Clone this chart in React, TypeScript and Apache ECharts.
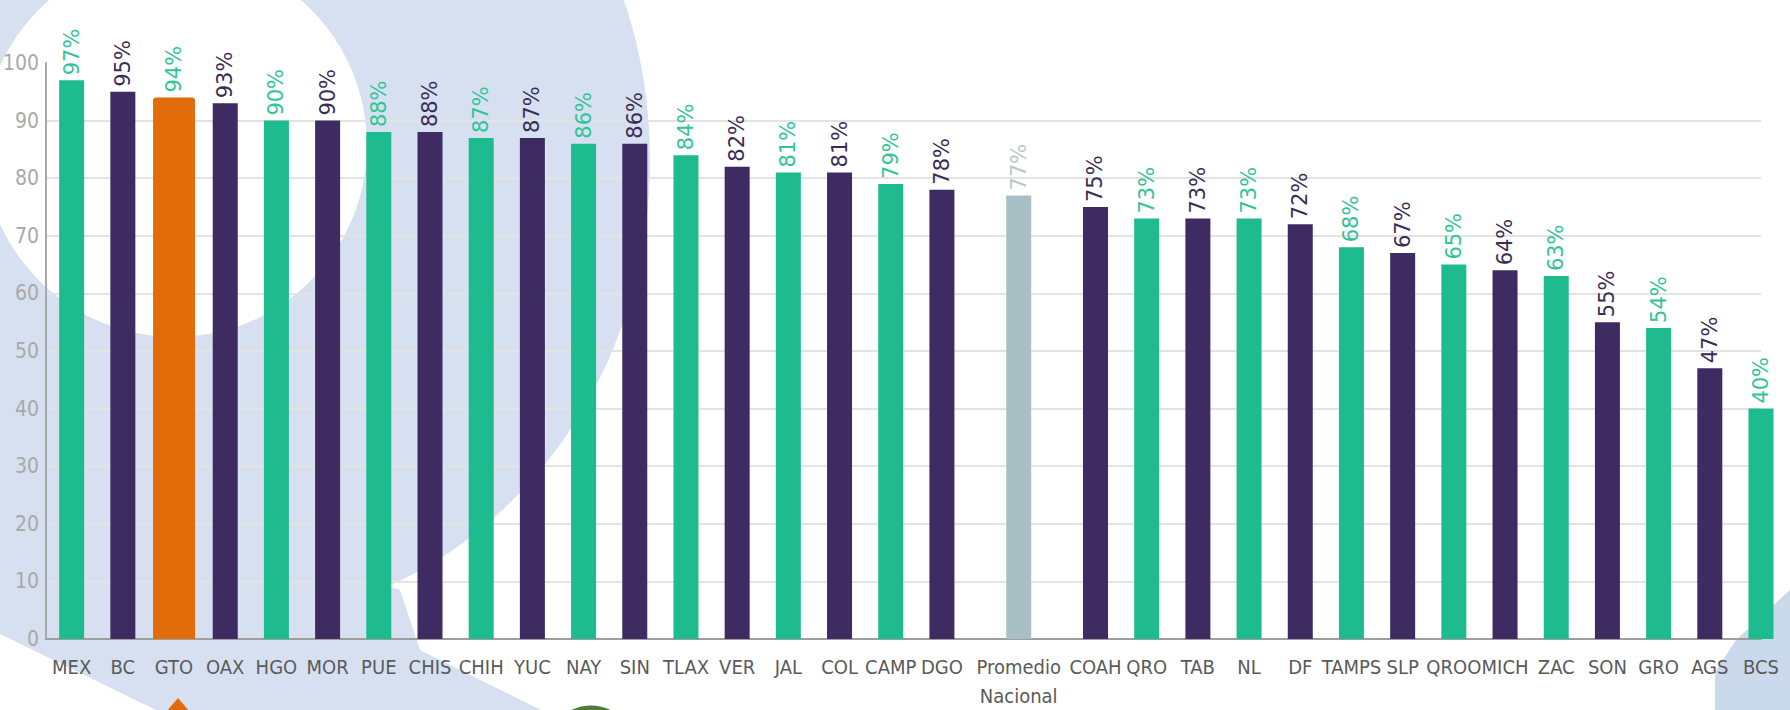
import React, { useEffect, useRef } from "react";
import * as echarts from "echarts";

// ---- data ----
const states: string[] = [
  "MEX", "BC", "GTO", "OAX", "HGO", "MOR", "PUE", "CHIS", "CHIH", "YUC", "NAY",
  "SIN", "TLAX", "VER", "JAL", "COL", "CAMP", "DGO", "Promedio\nNacional", "COAH",
  "QRO", "TAB", "NL", "DF", "TAMPS", "SLP", "QROO", "MICH", "ZAC", "SON", "GRO",
  "AGS", "BCS",
];
const values: number[] = [
  97, 95, 94, 93, 90, 90, 88, 88, 87, 87, 86, 86, 84, 82, 81, 81, 79, 78, 77, 75,
  73, 73, 73, 72, 68, 67, 65, 64, 63, 55, 54, 47, 40,
];
// g = green, p = purple, o = highlighted (GTO), n = national average
const kinds: string[] = [
  "g", "p", "o", "p", "g", "p", "g", "p", "g", "p", "g", "p", "g", "p", "g", "p",
  "g", "p", "n", "p", "g", "p", "g", "p", "g", "p", "g", "p", "g", "p", "g", "p", "g",
];
const yTicks: number[] = [0, 10, 20, 30, 40, 50, 60, 70, 80, 90, 100];
const AVG = "Promedio\nNacional";
const HIGHLIGHT = "GTO";

const BAR_COLORS: Record<string, string> = {
  g: "#1dbb8d",
  p: "#3e2b62",
  o: "#e36c0a",
  n: "#a9bfc6",
};
const LABEL_COLORS: Record<string, string> = {
  g: "#2fc597",
  p: "#3a2d55",
  o: "#2fc597",
  n: "#b9c7cb",
};

export default function App() {
  const ref = useRef<HTMLDivElement>(null);

  useEffect(() => {
    if (!ref.current) return;
    const chart = echarts.init(ref.current, undefined, { renderer: "svg" });

    // half-slot category layout: each state occupies every other category,
    // with one extra half-slot on both sides of the national average
    const idx: number[] = [];
    let pos = 1;
    states.forEach((s) => {
      if (s === AVG) pos += 1;
      idx.push(pos);
      pos += 2;
      if (s === AVG) pos += 1;
    });
    const n = idx[idx.length - 1] + 1;
    const cats: string[] = new Array(n).fill("");
    const mainData: any[] = new Array(n).fill("-");
    const hiData: any[] = new Array(n).fill("-");
    states.forEach((s, i) => {
      cats[idx[i]] = s;
      const k = kinds[i];
      const item = {
        value: values[i],
        itemStyle: { color: BAR_COLORS[k] },
        label: { color: LABEL_COLORS[k] },
      };
      if (s === HIGHLIGHT) hiData[idx[i]] = item;
      else mainData[idx[i]] = item;
    });

    const labelCommon = {
      show: true,
      position: "top",
      rotate: 90,
      align: "left",
      verticalAlign: "middle",
      distance: 5,
      fontFamily: "'DejaVu Sans', sans-serif",
      fontSize: 21,
      formatter: (p: any) => p.value + "%",
    };

    const bg = "#d6e0f1";
    chart.setOption({
      animation: false,
      backgroundColor: "#ffffff",
      graphic: [
        { type: "ellipse", z: -10, silent: true, shape: { cx: 230, cy: 160, rx: 420, ry: 460 }, style: { fill: bg } },
        {
          type: "polygon", z: -10, silent: true,
          shape: { points: [[0, 520], [0, 634], [160, 712], [545, 712], [420, 650], [400, 590], [300, 560]] },
          style: { fill: bg },
        },
        { type: "circle", z: -9, silent: true, shape: { cx: 175, cy: 145, r: 192 }, style: { fill: "#ffffff" } },
        {
          type: "polygon", z: -10, silent: true,
          shape: { points: [[1715, 712], [1715, 672], [1736, 640], [1792, 588], [1792, 712]] },
          style: { fill: "#cbd9ec" },
        },
        {
          type: "polygon", z: 10, silent: true,
          shape: { points: [[178, 698], [166, 712], [190, 712]] },
          style: { fill: "#e36c0a" },
        },
        {
          type: "circle", z: 10, silent: true,
          shape: { cx: 591, cy: 750, r: 42 },
          style: { fill: "none", stroke: "#4f7d3a", lineWidth: 5 },
        },
      ],
      grid: { left: 46, right: 29, top: 63, bottom: 66, containLabel: false },
      xAxis: [
        {
          type: "category",
          data: cats,
          boundaryGap: false,
          axisLine: { show: true, lineStyle: { color: "#9e9e9e", width: 2 } },
          axisTick: { show: false },
          splitLine: { show: false },
          axisLabel: {
            interval: 0,
            color: "#5a5a5a",
            fontSize: 20,
            lineHeight: 29,
            margin: 13,
            fontFamily: "'Liberation Sans Narrow', 'DejaVu Sans Condensed', sans-serif",
          },
        },
        { type: "category", data: cats, boundaryGap: false, show: false },
      ],
      yAxis: {
        type: "value",
        min: yTicks[0],
        max: yTicks[yTicks.length - 1],
        interval: yTicks[1] - yTicks[0],
        axisLine: { show: true, lineStyle: { color: "#a8a8a8", width: 2 } },
        axisTick: { show: false },
        axisLabel: {
          color: "#a9a9a9",
          fontSize: 21,
          margin: 7,
          fontFamily: "'Liberation Sans Narrow', 'DejaVu Sans Condensed', sans-serif",
        },
        splitLine: { show: true, showMaxLine: false, lineStyle: { color: "#e3e3e3", width: 2 } },
      },
      series: [
        {
          type: "bar",
          xAxisIndex: 0,
          data: mainData,
          barWidth: 25,
          clip: false,
          label: labelCommon,
        },
        {
          type: "bar",
          xAxisIndex: 1,
          data: hiData,
          barWidth: 42,
          clip: false,
          itemStyle: { borderRadius: [3, 3, 0, 0] },
          label: labelCommon,
        },
      ],
    });
    return () => chart.dispose();
  }, []);

  return (
    <div
      ref={ref}
      style={{ position: "fixed", left: 0, top: 0, width: 1790, height: 710, background: "#fff" }}
    />
  );
}
